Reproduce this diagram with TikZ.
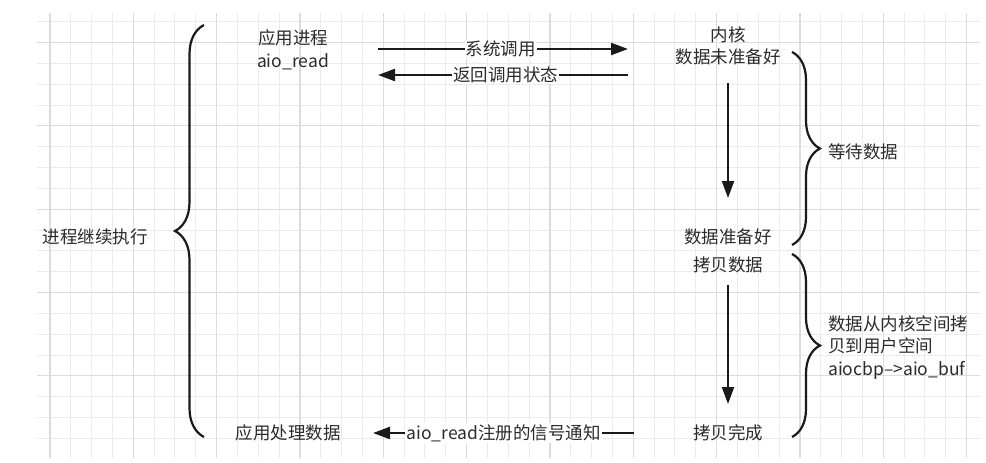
\documentclass[tikz,border=0pt]{standalone}
\usepackage{fontspec}
\setmainfont{Noto Sans CJK SC}
\usepackage{xcolor}
\usetikzlibrary{arrows.meta,decorations.pathreplacing}
\definecolor{gridminor}{HTML}{EBEBEB}
\definecolor{gridmajor}{HTML}{DCDCDC}
\definecolor{ink}{HTML}{1A1A1A}
\definecolor{txtgray}{HTML}{2B2B2B}

\begin{document}
\begin{tikzpicture}[x=1pt,y=-1pt]
	\tikzset{>={Triangle[length=17pt,width=12pt]}}
	\tikzset{txt/.style={font=\fontsize{17.5}{22.5}\selectfont,text=txtgray,inner sep=1pt,align=center}}
	\tikzset{arr/.style={->,line width=2.2pt,draw=ink}}
	\tikzset{brc/.style={decorate,line width=2.2pt,draw=ink}}
	
	\useasboundingbox (0,0) rectangle (986,463);
	
	% grid
	\begin{scope}
		\clip (37,13) rectangle (980,458);
		\foreach \i in {0,...,44}
			\draw[gridminor,line width=1pt] ({50+20.833*\i},13) -- ({50+20.833*\i},458);
		\foreach \j in {0,...,20}
			\draw[gridminor,line width=1pt] (37,{21.7+20.833*\j}) -- (980,{21.7+20.833*\j});
		\foreach \i in {0,4,...,44}
			\draw[gridmajor,line width=1.2pt] ({50+20.833*\i},13) -- ({50+20.833*\i},458);
		\foreach \j in {1,5,...,17}
			\draw[gridmajor,line width=1.2pt] (37,{21.7+20.833*\j}) -- (980,{21.7+20.833*\j});
	\end{scope}
	
	% user side
	\node[txt] (app) at (293,50) {应用进程\\aio\_read};
	\node[txt] (appdone) at (288,433) {应用处理数据};
	\node[txt] (goon) at (95,237) {进程继续执行};
	
	% kernel side
	\node[txt] (kernel) at (728,46) {内核\\数据未准备好};
	\node[txt] (ready) at (728,237) {数据准备好};
	\node[txt] (copy) at (728,265) {拷贝数据};
	\node[txt] (copydone) at (728,433) {拷贝完成};
	\node[txt] (wait) at (863,152) {等待数据};
	\node[txt,align=left,anchor=west] (copytext) at (827,347.5) {数据从内核空间拷\\贝到用户空间\\aiocbp–>aio\_buf};
	
	% arrow ends
	\coordinate (callL) at (378,49);
	\coordinate (callR) at (628,49);
	\coordinate (retL) at (378,75);
	\coordinate (retR) at (628,75);
	\coordinate (sigL) at (373,433);
	\coordinate (sigR) at (634,433);
	\coordinate (waitT) at (728,83);
	\coordinate (waitB) at (728,198);
	\coordinate (copyT) at (728,285);
	\coordinate (copyB) at (728,404);
	
	\draw[arr] (callL) -- node[txt,fill=white,pos=0.49] {系统调用} (callR);
	\draw[arr] (retR) -- node[txt,fill=white,pos=0.49] {返回调用状态} (retL);
	\draw[arr] (sigR) -- node[txt,fill=white,pos=0.5] {aio\_read注册的信号通知} (sigL);
	\draw[arr] (waitT) -- (waitB);
	\draw[arr] (copyT) -- (copyB);
	
	% braces
	\draw[brc,decoration={brace,amplitude=29pt}] (204,437) -- (204,25);
	\draw[brc,decoration={brace,amplitude=28pt}] (792,52) -- (792,245);
	\draw[brc,decoration={brace,amplitude=28pt}] (792,254) -- (792,437);
	
\end{tikzpicture}
\end{document}
